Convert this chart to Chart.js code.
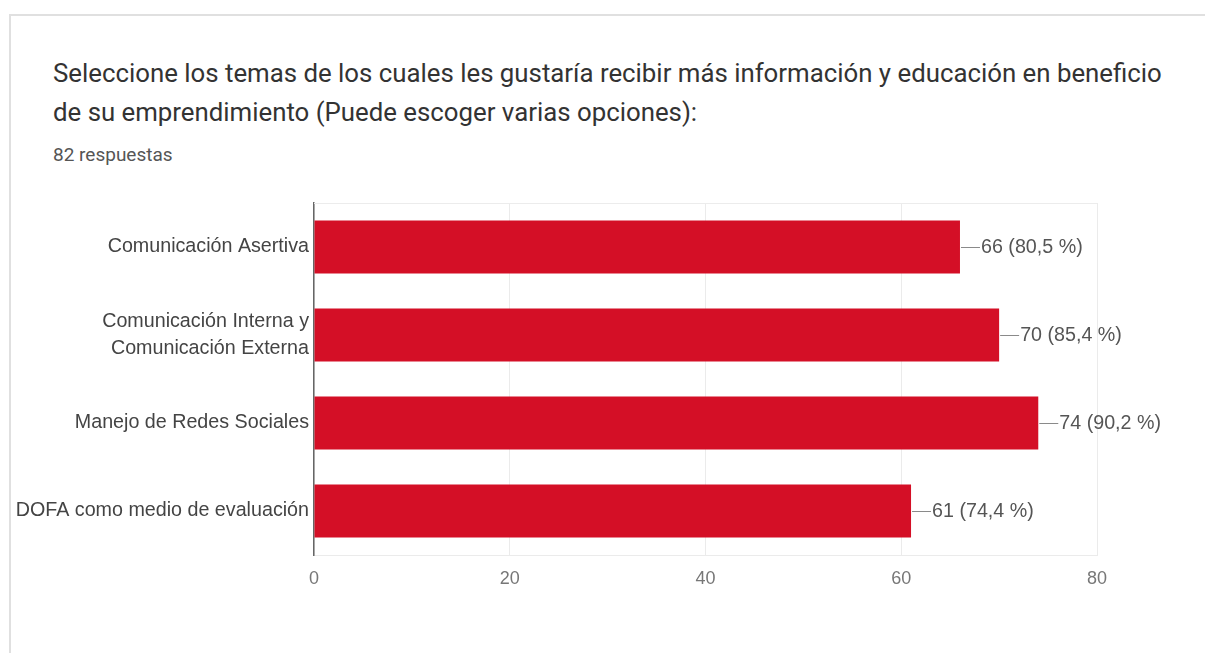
<!DOCTYPE html>
<html lang="es">
<head>
<meta charset="utf-8">
<title>Temas de interés</title>
<script src="https://cdn.jsdelivr.net/npm/chart.js@4/dist/chart.umd.min.js"></script>
<style>
  html, body { margin: 0; padding: 0; background: #ffffff; }
  body { width: 1205px; height: 653px; position: relative; overflow: hidden; }
  .card {
    position: absolute; left: 9px; top: 14px; width: 1300px; height: 700px;
    border: 2px solid #e0e0e0; box-sizing: border-box; background: #ffffff;
  }
  .title {
    position: absolute; left: 53px; top: 54px; width: 1150px;
    font-family: Roboto, "Noto Sans", sans-serif; font-size: 25.8px; line-height: 39px;
    color: #333333; white-space: nowrap;
  }
  .count {
    position: absolute; left: 53px; top: 145px;
    font-family: Roboto, "Noto Sans", sans-serif; font-size: 19px; line-height: 19px;
    color: #555555;
  }
  #wrap { position: absolute; left: 0; top: 0; width: 1205px; height: 653px; }
</style>
</head>
<body>
<div class="card"></div>
<div class="title">Seleccione los temas de los cuales les gustaría recibir más información y educación en beneficio<br>de su emprendimiento (Puede escoger varias opciones):</div>
<div class="count">82 respuestas</div>
<div id="wrap"><canvas id="chart" width="1205" height="653"></canvas></div>
<script>
// Survey answers: one bar per topic, count of respondents who picked it
const categories = [
  'Comunicación Asertiva',
  ['Comunicación Interna y', 'Comunicación Externa'],
  'Manejo de Redes Sociales',
  'DOFA como medio de evaluación'
];
const counts = [66, 70, 74, 61];
const percents = ['80,5', '85,4', '90,2', '74,4'];
const xTicks = [0, 20, 40, 60, 80];

const BAR_RED = '#d40f26';
const LABEL_FONT = '"Liberation Sans", Arial, sans-serif';

// Value labels with a short leader line after each bar
const valueLabels = {
  id: 'valueLabels',
  afterDatasetsDraw(chart) {
    const ctx = chart.ctx;
    const meta = chart.getDatasetMeta(0);
    ctx.save();
    meta.data.forEach((bar, i) => {
      const x0 = bar.x + 1;
      ctx.strokeStyle = '#8a8a8a';
      ctx.lineWidth = 1;
      ctx.beginPath();
      ctx.moveTo(x0, bar.y + 0.5);
      ctx.lineTo(x0 + 19, bar.y + 0.5);
      ctx.stroke();
      ctx.fillStyle = '#555555';
      ctx.font = '19.7px ' + LABEL_FONT;
      ctx.textAlign = 'left';
      ctx.textBaseline = 'middle';
      ctx.fillText(counts[i] + ' (' + percents[i] + ' %)', x0 + 20, bar.y + 1);
    });
    ctx.restore();
  }
};

// Faint line along the top edge of the plot area
const topEdge = {
  id: 'topEdge',
  beforeDatasetsDraw(chart) {
    const { ctx, chartArea } = chart;
    ctx.save();
    ctx.strokeStyle = '#ececec';
    ctx.lineWidth = 1;
    ctx.beginPath();
    ctx.moveTo(chartArea.left, chartArea.top + 0.5);
    ctx.lineTo(chartArea.right, chartArea.top + 0.5);
    ctx.stroke();
    ctx.restore();
  }
};

new Chart(document.getElementById('chart'), {
  type: 'bar',
  data: {
    labels: categories,
    datasets: [{
      data: counts,
      backgroundColor: BAR_RED,
      borderWidth: 0,
      barPercentage: 0.6,
      categoryPercentage: 1
    }]
  },
  options: {
    indexAxis: 'y',
    responsive: false,
    animation: false,
    devicePixelRatio: 1,
    layout: { padding: { left: 0, top: 203, right: 108, bottom: 58 } },
    plugins: {
      legend: { display: false },
      tooltip: { enabled: false },
      title: { display: false }
    },
    scales: {
      x: {
        min: 0,
        max: 80,
        afterBuildTicks(scale) { scale.ticks = xTicks.map(v => ({ value: v })); },
        afterFit(scale) { scale.height = 40; },
        grid: { color: '#ebebeb', lineWidth: 1, drawTicks: false },
        border: { display: true, color: '#ebebeb', width: 1 },
        ticks: {
          color: '#777777',
          font: { family: LABEL_FONT, size: 18 },
          padding: 13
        }
      },
      y: {
        afterFit(scale) { scale.width = 314; },
        grid: { display: false, drawTicks: false },
        border: { display: true, color: '#666666', width: 1.5 },
        ticks: {
          color: '#444444',
          font: { family: LABEL_FONT, size: 19.7, lineHeight: 1.37 },
          padding: 5
        }
      }
    }
  },
  plugins: [topEdge, valueLabels]
});
</script>
</body>
</html>
